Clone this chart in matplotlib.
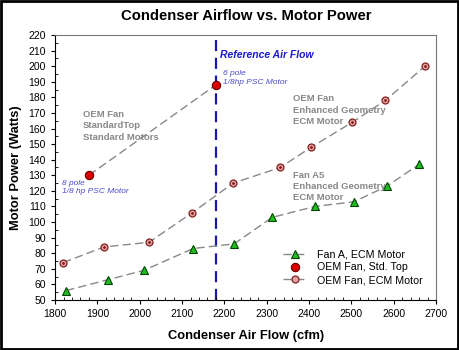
import matplotlib
matplotlib.use("Agg")
import matplotlib.pyplot as plt
from matplotlib.ticker import MultipleLocator
from matplotlib.patches import Rectangle

plt.rcParams['font.family'] = ['Liberation Sans', 'DejaVu Sans']

fanA_x = [1826, 1925, 2010, 2126, 2223, 2313, 2414, 2506, 2584, 2660]
fanA_y = [56, 63, 69, 83, 86, 103, 110, 113, 123, 137]
oem_ecm_x = [1819, 1916, 2022, 2124, 2221, 2332, 2405, 2502, 2580, 2674]
oem_ecm_y = [74, 84, 87, 106, 125, 135, 148, 164, 178, 200]
oem_std_x = [1880, 2180]
oem_std_y = [130, 188]
ref_flow = 2180

fig = plt.figure(figsize=(4.59, 3.5), dpi=100)
ax = fig.add_axes([0.120, 0.143, 0.830, 0.757])

dash = dict(color="#888888", lw=1.0, dashes=(6, 3))
ax.plot(oem_std_x, oem_std_y, **dash, zorder=2)
ax.plot(fanA_x, fanA_y, **dash, marker="^", ms=5.5, mfc="#22bb22", mec="#004400",
        mew=0.8, label="Fan A, ECM Motor", zorder=3)
ax.plot(oem_std_x, oem_std_y, ls="none", marker="o", ms=6, mfc="#dd0000",
        mec="#660000", mew=0.8, label="OEM Fan, Std. Top", zorder=3)
ax.plot(oem_ecm_x, oem_ecm_y, **dash, marker="o", ms=5, mfc="#e8a0a0",
        mec="#802020", mew=0.9, label="OEM Fan, ECM Motor", zorder=3)
ax.plot(oem_ecm_x, oem_ecm_y, ls="none", marker=".", ms=2, color="#802020", zorder=4)
ax.axvline(ref_flow, color="#1a1aaa", lw=1.6, dashes=(5, 3), zorder=1)

ax.set_xlim(1800, 2700)
ax.set_ylim(50, 220)
ax.xaxis.set_major_locator(MultipleLocator(100))
ax.xaxis.set_minor_locator(MultipleLocator(20))
ax.yaxis.set_major_locator(MultipleLocator(10))
ax.yaxis.set_minor_locator(MultipleLocator(5))
ax.tick_params(which="major", direction="out", length=3, labelsize=7.5, colors="black")
ax.tick_params(which="minor", direction="in", length=2.5)
for s in ["left", "bottom"]:
    ax.spines[s].set_color("black")
for s in ["top", "right"]:
    ax.spines[s].set_color("#777777")

ax.set_xlabel("Condenser Air Flow (cfm)", fontsize=9.3, fontweight="bold", labelpad=8)
ax.set_ylabel("Motor Power (Watts)", fontsize=9.3, fontweight="bold", labelpad=5)
fig.text(0.536, 0.955, "Condenser Airflow vs. Motor Power", ha="center", va="center",
         fontsize=10.7, fontweight="bold")

gray = "#888888"
ax.text(1866, 172, "OEM Fan\nStandardTop\nStandard Motors", color=gray, fontsize=6.8,
        fontweight="bold", va="top", linespacing=1.35)
ax.text(2362, 182, "OEM Fan\nEnhanced Geometry\nECM Motor", color=gray, fontsize=6.8,
        fontweight="bold", va="top", linespacing=1.35)
ax.text(2362, 133, "Fan A5\nEnhanced Geometry\nECM Motor", color=gray, fontsize=6.8,
        fontweight="bold", va="top", linespacing=1.35)
blue = "#4a4acc"
ax.text(2189, 207, "Reference Air Flow", color="#1a1acc", fontsize=7.5,
        fontweight="bold", style="italic", va="center")
ax.text(2196, 192.3, "6 pole\n1/8hp PSC Motor", color=blue, fontsize=6,
        style="italic", va="center", linespacing=1.3)
ax.text(1816, 122, "8 pole\n1/8 hp PSC Motor", color=blue, fontsize=6,
        style="italic", va="center", linespacing=1.3)

leg = ax.legend(loc="lower right", bbox_to_anchor=(0.99, 0.02), frameon=False,
                fontsize=7.7, handlelength=2.4, labelspacing=0.25, handletextpad=0.8)

fig.patches.append(Rectangle((0.002, 0.003), 0.995, 0.994, transform=fig.transFigure,
                             fill=False, ec="black", lw=2.0))
fig.savefig("out.png", dpi=100)
